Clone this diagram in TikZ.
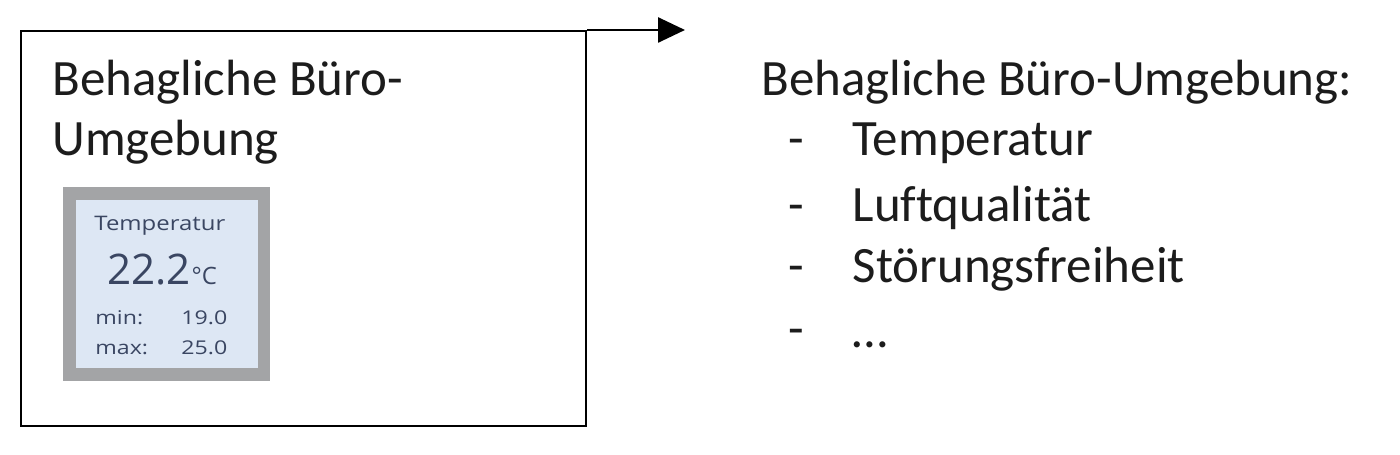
\documentclass[tikz,border=0pt]{standalone}
\usepackage{fontspec}
\setmainfont{Carlito}[Ligatures=NoCommon]
\newfontfamily\panelfont{Open Sans}
\usetikzlibrary{positioning}
\usetikzlibrary{arrows.meta}
\definecolor{framegray}{RGB}{163,164,166}
\definecolor{screenblue}{RGB}{221,231,244}
\definecolor{screentext}{RGB}{58,70,98}
\definecolor{inktext}{RGB}{28,28,28}
\tikzset{bigtext/.style={font=\fontsize{29}{35}\selectfont, text=inktext, inner sep=0pt, anchor=base west},
	%small texts on the display
	screenlabel/.style={font=\panelfont\fontsize{10.8}{12}\selectfont, text=screentext, inner sep=0pt, anchor=base west, xscale=1.22}}

\begin{document}
\begin{tikzpicture}[x=0.02cm, y=-0.02cm]
		\useasboundingbox (0,0) rectangle (1400,455);
%		\draw[step=50,help lines,black!20] (0,0) grid (1400,455);
		\node (office) [draw, line width=1.3pt, minimum width=11.3cm, minimum height=7.9cm, anchor=north west, inner sep=0pt] at (20,30) {};
		\coordinate (outlet) at (685,30);
		\draw[line width=1.5pt, -{Triangle[length=5.4mm, width=5mm]}] (office.north east) -- (outlet);

		\node (officetitle) [bigtext] at (52,96) {Behagliche Büro-};
		\node (officetitletwo) [bigtext] at (52,156) {Umgebung};

		%display
		\node (frame) [fill=framegray, minimum width=4.14cm, minimum height=3.88cm, anchor=north west, inner sep=0pt] at (63,187) {};
		\node (screen) [fill=screenblue, minimum width=3.64cm, minimum height=3.36cm, inner sep=0pt] at (frame.center) {};
		\node (screentitle) [screenlabel, font=\panelfont\fontsize{11.4}{13}\selectfont, xscale=0.98] at (94,231) {Temperatur};
		\node (reading) [font=\panelfont\fontsize{24}{28}\selectfont, text=screentext, inner sep=0pt, anchor=base west] at (107,285) {22.2};
		\node (unit) [font=\panelfont\fontsize{13.6}{16}\selectfont, text=screentext, inner sep=0pt, anchor=base west] at (reading.base east) {°C};
		\node (minlabel) [screenlabel] at (95,325) {min:};
		\node (minvalue) [screenlabel] at (181,325) {19.0};
		\node (maxlabel) [screenlabel] at (95,355) {max:};
		\node (maxvalue) [screenlabel] at (181,355) {25.0};

		%list on the right
		\node (listhead) [bigtext] at (761,96) {Behagliche Büro-Umgebung:};
		\node (dashone) [bigtext] at (788,156) {-};
		\node (dashtwo) [bigtext] at (788,222) {-};
		\node (dashthree) [bigtext] at (788,283) {-};
		\node (dashfour) [bigtext] at (788,346) {-};
		\node (itemone) [bigtext, base right=0.96cm of dashone] {Temperatur};
		\node (itemtwo) [bigtext, base right=0.96cm of dashtwo] {Luftqualität};
		\node (itemthree) [bigtext, base right=0.96cm of dashthree] {Störungsfreiheit};
		\node (itemfour) [bigtext, base right=0.96cm of dashfour, yshift=-0.04cm] {\dots};
	\end{tikzpicture}
\end{document}
